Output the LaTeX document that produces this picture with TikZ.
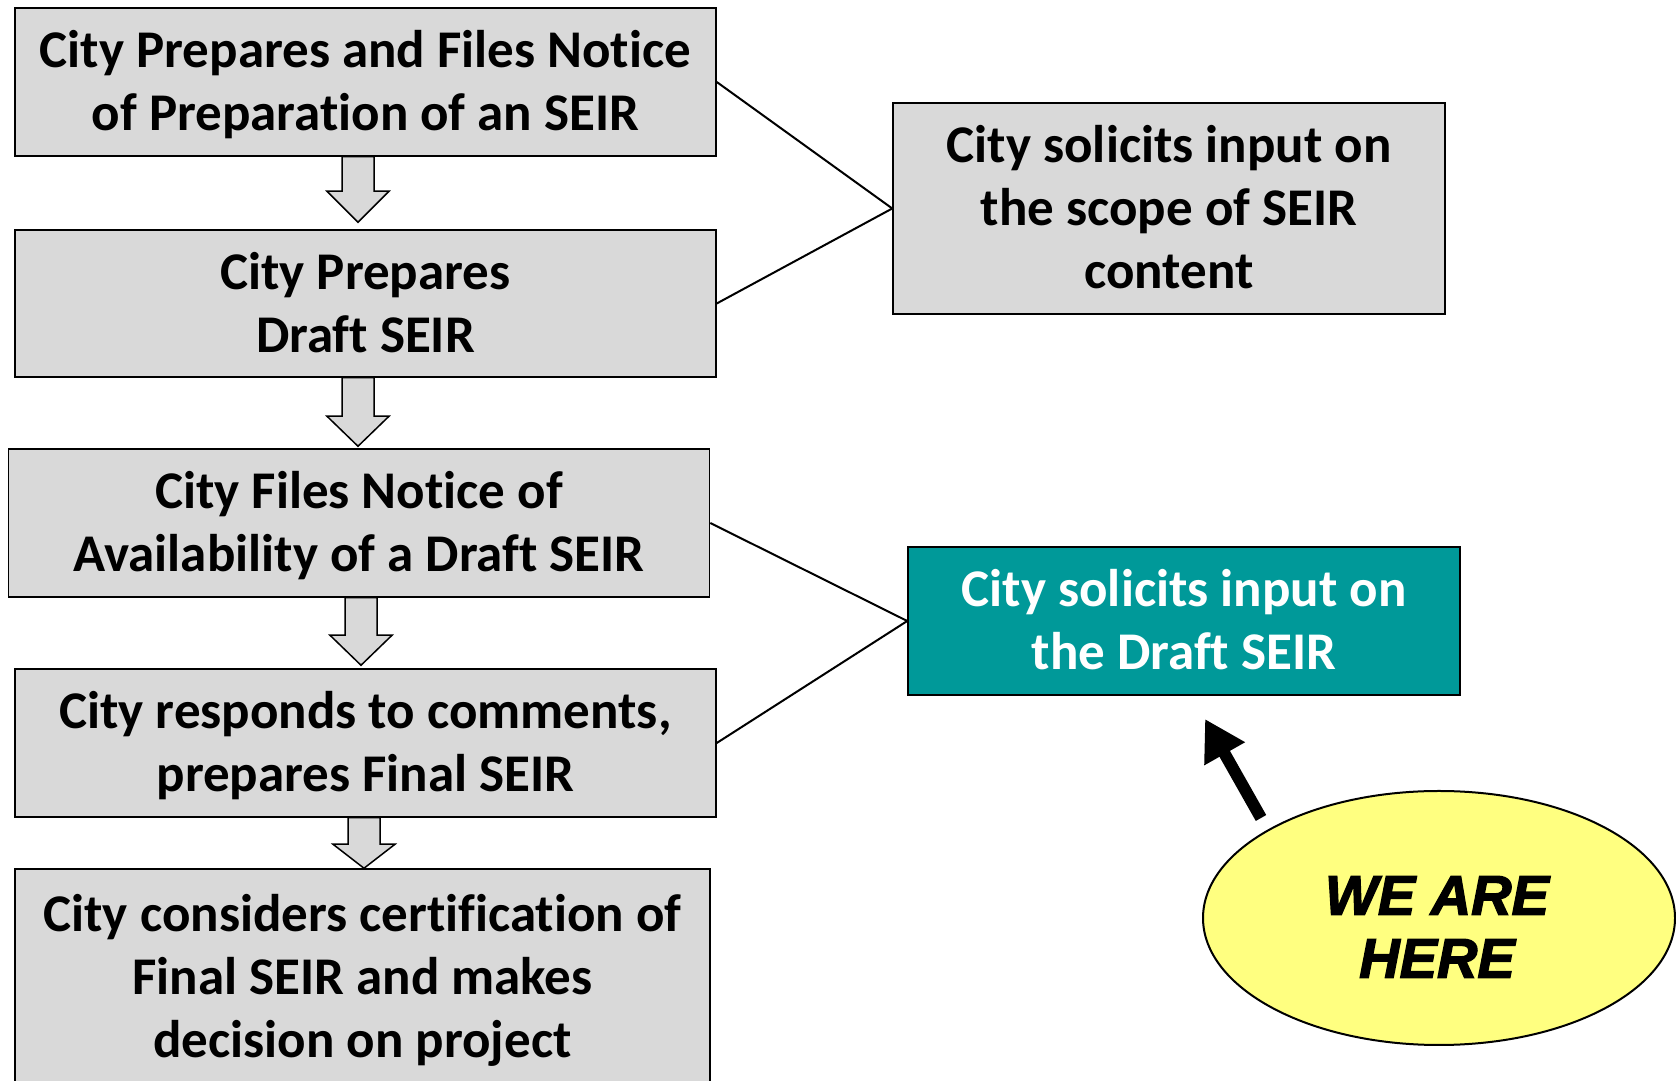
\documentclass[tikz,border=0pt]{standalone}
\usepackage{fontspec}
\setmainfont{Carlito}[Ligatures={NoCommon}]
\newfontfamily\heavyfont[FakeBold=2.5]{Liberation Sans}
\usetikzlibrary{shapes.geometric,arrows.meta,calc}
\definecolor{boxgray}{HTML}{D9D9D9}
\definecolor{tealbox}{HTML}{009999}
\definecolor{hereyellow}{HTML}{FFFF80}
\newcommand\tops{\rule{0pt}{50pt}}
\newcommand\bots{\rule[-15pt]{0pt}{15pt}}
\tikzset{
  stepbox/.style={draw=black, line width=1.5pt, fill=boxgray, rectangle, inner sep=0pt,
    minimum width=701pt, minimum height=148pt, align=center,
    font=\fontsize{53}{63}\selectfont\bfseries},
  linkline/.style={draw=black, line width=2pt},
  barrow/.style={draw=black, line width=1.5pt, fill=boxgray, line join=miter},
  pointer/.style={draw=black, line width=12pt, -{Triangle[length=40pt,width=44pt]}},
}
\newcommand\blockarr[5]{% from node, to node, x centre, tip gap, head length
  \draw[barrow] let \p1=(#1.south), \p2=(#2.north) in
    (#3-16pt,\y1) -- (#3+16pt,\y1) -- (#3+16pt,\y2+#4pt+#5pt) -- (#3+31pt,\y2+#4pt+#5pt)
    -- (#3pt,\y2+#4pt) -- (#3-31pt,\y2+#4pt+#5pt) -- (#3-16pt,\y2+#4pt+#5pt) -- cycle;}
\begin{document}
\begin{tikzpicture}[x=1pt,y=1pt]
\useasboundingbox (0,0) rectangle (1676,1081);
\clip (0,0) rectangle (1676,1081);
\node[stepbox] (b1) at (365.5,999) {\tops City Prepares and Files Notice\\of Preparation of an SEIR\bots};
\node[stepbox, minimum height=147pt] (b2) at (365.5,777.5) {\tops City Prepares\\Draft SEIR\bots};
\node[stepbox] (b3) at (359,558) {\tops City Files Notice of\\Availability of a Draft SEIR\bots};
\node[stepbox] (b4) at (365.5,338) {\tops City responds to comments,\\prepares Final SEIR\bots};
\node[stepbox, minimum width=695pt, minimum height=216pt] (b5) at (362.5,104) {\tops City considers certification of\\Final SEIR and makes\\decision on project\bots};
\node[stepbox, minimum width=552pt, minimum height=211pt] (r1) at (1169,872.5) {\tops City solicits input on\\the scope of SEIR\\content\bots};
\node[stepbox, minimum width=552pt, fill=tealbox, text=white] (r2) at (1184,460) {\tops City solicits input on\\the Draft SEIR\bots};
\node[draw=black, line width=2pt, fill=hereyellow, ellipse, minimum width=472pt, minimum height=254pt, inner sep=0pt] (here) at (1439,163) {};
\node[align=center, font=\fontsize{56}{63}\selectfont\heavyfont\bfseries\itshape] (heretext) at (1437,154) {WE ARE\\HERE};
\blockarr{b1}{b2}{358}{7}{31}
\blockarr{b2}{b3}{358}{2}{30}
\blockarr{b3}{b4}{361}{3}{30}
\blockarr{b4}{b5}{364}{0}{24}
\draw[linkline] (b1.east) -- (r1.west);
\draw[linkline] (b2.east) -- (r1.west);
\draw[linkline] (b3.east) -- (r2.west);
\draw[linkline] (b4.east) -- (r2.west);
\coordinate (tail) at (1261,263);
\coordinate (tip) at (1205,362);
\draw[pointer] (tail) -- (tip);
\end{tikzpicture}
\end{document}
